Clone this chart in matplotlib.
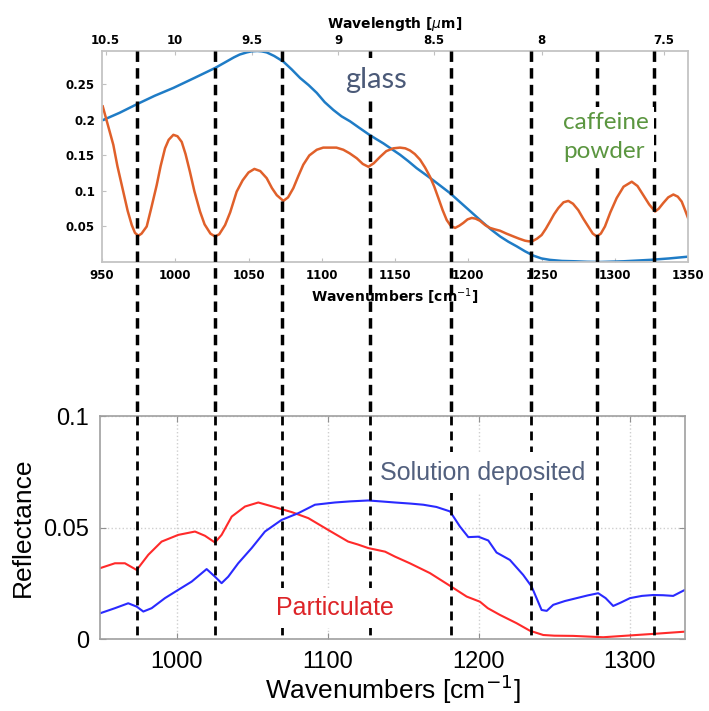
import numpy as np
import matplotlib
matplotlib.use("Agg")
import matplotlib.pyplot as plt
from matplotlib.lines import Line2D
from matplotlib.transforms import blended_transform_factory

plt.rcParams['font.family'] = ['Liberation Sans', 'DejaVu Sans']

# Reference spectra (top panel): glass substrate and caffeine powder
glass_wn = [950.9, 962, 973.7, 986, 998.7, 1013, 1027.1, 1034, 1040, 1044, 1048.8, 1052,
            1056, 1059, 1062.4, 1067.5, 1073.8, 1079.5, 1085.2, 1091, 1096.6, 1102,
            1107.9, 1113.5, 1119.3, 1125.5, 1131.8, 1136.8, 1142, 1147.7, 1153.4, 1159,
            1164.8, 1170.5, 1176.1, 1181.8, 1187.5, 1193.2, 1198.9, 1204.6, 1210.3, 1216,
            1221.7, 1227.4, 1233.1, 1238.8, 1244.4, 1250, 1255.8, 1264, 1272.9, 1281,
            1289.9, 1306, 1324, 1337, 1350]
glass_r = [0.200, 0.210, 0.222, 0.234, 0.245, 0.259, 0.273, 0.281, 0.288, 0.292, 0.295, 0.2965,
           0.297, 0.2965, 0.295, 0.290, 0.282, 0.271, 0.259, 0.249, 0.238, 0.225,
           0.214, 0.205, 0.198, 0.189, 0.180, 0.1735, 0.167, 0.159, 0.151, 0.142,
           0.132, 0.1235, 0.115, 0.106, 0.097, 0.0865, 0.076, 0.0655, 0.055, 0.045,
           0.036, 0.0285, 0.022, 0.015, 0.009, 0.005, 0.003, 0.0015, 0.001, 0.0003,
           0.000, 0.001, 0.003, 0.005, 0.0075]

caffeine_wn = [950.5, 957.7, 960.5, 964.5, 967.5, 970.3, 972.5, 974.8, 977.0, 980.5,
               983.5, 987.3, 990.0, 993.0, 995.5, 998.7, 1001.5, 1004.4, 1007.0, 1010.0,
               1013.0, 1016.9, 1020.0, 1024.0, 1027.1, 1030.0, 1034.0, 1037.5, 1041.9, 1046.0,
               1050.0, 1054.0, 1058.0, 1062.4, 1066.0, 1069.3, 1073.8, 1077.0, 1080.6, 1084.0,
               1087.4, 1091.5, 1096.6, 1101.0, 1105.6, 1110.0, 1114.7, 1119.0, 1123.9, 1128.0,
               1131.8, 1135.5, 1139.8, 1144.0, 1148.8, 1153.4, 1157.0, 1160.2, 1163.5, 1167.1,
               1170.5, 1173.9, 1176.8, 1179.6, 1182.5, 1185.3, 1188.0, 1191.0, 1193.8, 1196.6,
               1199.5, 1202.4, 1205.0, 1208.0, 1211.5, 1214.8, 1218.0, 1221.7, 1226.0, 1230.8,
               1234.5, 1238.7, 1241.5, 1244.4, 1247.0, 1250.1, 1253.0, 1255.8, 1258.5, 1261.5,
               1265.0, 1268.3, 1271.5, 1275.1, 1278.5, 1281.9, 1285.0, 1287.7, 1290.5, 1293.3,
               1297.0, 1301.3, 1306.0, 1311.6, 1315.5, 1319.5, 1323.5, 1327.5, 1330.0, 1333.1,
               1336.5, 1340.0, 1343.0, 1345.7, 1348.0, 1350.0]
caffeine_r = [0.219, 0.165, 0.135, 0.099, 0.072, 0.052, 0.041, 0.037, 0.040, 0.050,
              0.075, 0.108, 0.135, 0.160, 0.172, 0.179, 0.177, 0.169, 0.152, 0.127,
              0.100, 0.071, 0.053, 0.040, 0.036, 0.039, 0.052, 0.070, 0.099, 0.115,
              0.126, 0.131, 0.128, 0.118, 0.104, 0.094, 0.086, 0.091, 0.104, 0.121,
              0.137, 0.150, 0.158, 0.161, 0.161, 0.161, 0.158, 0.153, 0.146, 0.138,
              0.134, 0.139, 0.148, 0.156, 0.160, 0.161, 0.160, 0.157, 0.152, 0.144,
              0.133, 0.120, 0.106, 0.090, 0.073, 0.059, 0.051, 0.048, 0.051, 0.055,
              0.060, 0.062, 0.061, 0.058, 0.052, 0.048, 0.046, 0.044, 0.040, 0.036,
              0.033, 0.030, 0.029, 0.030, 0.033, 0.038, 0.047, 0.057, 0.067, 0.076,
              0.084, 0.086, 0.082, 0.073, 0.061, 0.050, 0.040, 0.036, 0.040, 0.050,
              0.070, 0.090, 0.106, 0.113, 0.107, 0.094, 0.081, 0.071, 0.075, 0.083,
              0.091, 0.095, 0.092, 0.085, 0.073, 0.062]

# Measured reflectance (bottom panel)
particulate_wn = [949.3, 959.2, 965.8, 973.6, 981.3, 990.1, 1001.1, 1012.2, 1018.8, 1025.4,
                  1029.8, 1036.5, 1045.3, 1054.1, 1065.1, 1076.2, 1087.2, 1100.4, 1108.0,
                  1113.6, 1120.0, 1126.9, 1138.0, 1144.5, 1154.4, 1167.7, 1181.0, 1192.0,
                  1200.8, 1206.0, 1214.0, 1225.0, 1233.9, 1242.7, 1250.0, 1262.5, 1282.4,
                  1295.6, 1315.5, 1336.5]
particulate_r = [0.0319, 0.0341, 0.0341, 0.0311, 0.0379, 0.0438, 0.0468, 0.0483, 0.0464, 0.0434,
                 0.0468, 0.0550, 0.0595, 0.0613, 0.0592, 0.0570, 0.0543, 0.0490, 0.0460,
                 0.0438, 0.0425, 0.0409, 0.0393, 0.0371, 0.0341, 0.0297, 0.0240, 0.0192,
                 0.0169, 0.0140, 0.0110, 0.0073, 0.0039, 0.0020, 0.0017, 0.0016, 0.0010,
                 0.0016, 0.0025, 0.0035]

solution_wn = [949.3, 959.2, 968.0, 973.6, 978.0, 983.5, 992.3, 1001.1, 1010.0, 1019.9,
               1025.4, 1029.8, 1034.2, 1040.8, 1049.7, 1058.5, 1069.5, 1080.5, 1091.6,
               1104.8, 1115.0, 1126.9, 1135.0, 1144.5, 1155.0, 1163.3, 1172.0, 1181.0,
               1187.6, 1193.1, 1199.7, 1206.3, 1211.8, 1220.6, 1229.4, 1235.0, 1241.6,
               1245.0, 1249.3, 1257.0, 1264.8, 1272.0, 1279.1, 1284.0, 1289.0, 1294.0,
               1300.1, 1308.0, 1315.5, 1322.0, 1328.7, 1333.0, 1336.5]
solution_r = [0.0117, 0.0140, 0.0162, 0.0147, 0.0125, 0.0140, 0.0185, 0.0222, 0.0259, 0.0315,
              0.0281, 0.0252, 0.0281, 0.0341, 0.0409, 0.0483, 0.0535, 0.0565, 0.0603,
              0.0613, 0.0618, 0.0622, 0.0618, 0.0613, 0.0608, 0.0603, 0.0593, 0.0573,
              0.0505, 0.0458, 0.0460, 0.0443, 0.0389, 0.0356, 0.0289, 0.0237, 0.0132,
              0.0128, 0.0155, 0.0172, 0.0185, 0.0197, 0.0207, 0.0185, 0.0150, 0.0165,
              0.0185, 0.0195, 0.0199, 0.0198, 0.0195, 0.0210, 0.0222]

# Caffeine band positions [cm^-1] used for the guide lines
caffeine_bands = [974, 1027, 1073, 1133, 1188, 1243, 1288, 1327]

top_xticks = [950, 1000, 1050, 1100, 1150, 1200, 1250, 1300, 1350]
top_yticks = [0.05, 0.1, 0.15, 0.2, 0.25]
wavelength_ticks = [10.5, 10, 9.5, 9, 8.5, 8, 7.5]
bottom_xticks = [1000, 1100, 1200, 1300]
bottom_yticks = [0, 0.05, 0.1]


def wn_to_um(x):
    x = np.asarray(x, dtype=float)
    with np.errstate(divide='ignore', invalid='ignore'):
        return 1e4 / x


fig = plt.figure(figsize=(7.09, 7.11), dpi=100)

# ---- top panel: reference spectra ----
small = dict(family='DejaVu Sans', fontweight='bold')
ax1 = fig.add_axes([0.1439, 0.6315, 0.8265, 0.2968])
ax1.plot(glass_wn, glass_r, color='#1f7cc6', lw=1.8)
ax1.plot(caffeine_wn, caffeine_r, color='#e0602a', lw=1.8)
ax1.set_xlim(950, 1350)
ax1.set_ylim(0, 0.297)
ax1.set_xticks(top_xticks)
ax1.set_xticklabels([str(v) for v in top_xticks], **small)
ax1.set_yticks(top_yticks)
ax1.set_yticklabels(['%g' % v for v in top_yticks], **small)
ax1.tick_params(direction='in', length=3, color='#c0c0c0', labelsize=8.5, pad=5)
for sp in ax1.spines.values():
    sp.set_color('#c4c4c4')
    sp.set_linewidth(1.3)
ax1.set_xlabel('Wavenumbers [cm$^{-1}$]', fontsize=10, labelpad=3, **small)

sec = ax1.secondary_xaxis('top', functions=(wn_to_um, wn_to_um))
sec.set_xticks(wavelength_ticks)
sec.set_xticklabels(['%g' % v for v in wavelength_ticks], **small)
sec.tick_params(direction='in', length=3, color='#c0c0c0', labelsize=8.5, pad=3)
sec.spines['top'].set_visible(False)
sec.set_xlabel('Wavelength [$\\mu$m]', fontsize=10, labelpad=4, **small)

# ---- bottom panel: measured reflectance ----
ax2 = fig.add_axes([0.1410, 0.1006, 0.8251, 0.3143])
ax2.plot(particulate_wn, particulate_r, color='#ff2a2a', lw=1.5)
ax2.plot(solution_wn, solution_r, color='#2a2aff', lw=1.5)
ax2.set_xlim(949.3, 1336.5)
ax2.set_ylim(0, 0.1)
ax2.set_xticks(bottom_xticks)
ax2.set_yticks(bottom_yticks)
ax2.set_yticklabels(['%g' % v for v in bottom_yticks])
ax2.grid(True, color='#cfcfcf', linestyle=':', linewidth=1.0)
ax2.tick_params(direction='in', length=4, color='#909090', labelsize=17,
                top=True, right=True, pad=8)
for sp in ax2.spines.values():
    sp.set_color('#a0a0a0')
    sp.set_linewidth(1.2)
ax2.set_xlabel('Wavenumbers [cm$^{-1}$]', fontsize=19, labelpad=0)
ax2.set_ylabel('Reflectance', fontsize=19, labelpad=6)

# guide lines through both panels at the caffeine bands
y_top = 0.9283
y_mid = 0.4149
y_bot = 0.1006
trans = blended_transform_factory(ax1.transData, fig.transFigure)
for band in caffeine_bands:
    fig.add_artist(Line2D([band, band], [y_top, y_mid], transform=trans,
                          color='black', lw=2.5, dashes=(3.0, 1.8), zorder=3))
    fig.add_artist(Line2D([band, band], [y_mid, y_bot], transform=trans,
                          color='black', lw=2.0, dashes=(3.2, 2.2), zorder=3))

# labels sit above the guide lines with a white backing
box = dict(facecolor='white', edgecolor='none', pad=6)
fig.text(1116, 0.245, 'glass', transform=ax1.transData, fontsize=21,
         family='Lato', color='#4b5a78', ha='left', va='baseline', bbox=box, zorder=4)
fig.text(1264.7, 0.1465, 'caffeine\npowder', transform=ax1.transData, fontsize=17.5,
         family='Lato', color='#5b9640', ha='left', va='baseline', linespacing=1.45,
         bbox=dict(facecolor='white', edgecolor='none', pad=4), zorder=4)
fig.text(1134.6, 0.0715, 'Solution deposited', transform=ax2.transData, fontsize=18,
         color='#52607e', ha='left', va='baseline', bbox=box, zorder=4)
fig.text(1066, 0.011, 'Particulate', transform=ax2.transData, fontsize=18,
         color='#dd2428', ha='left', va='baseline', bbox=box, zorder=4)

fig.savefig('out.png', dpi=100)
